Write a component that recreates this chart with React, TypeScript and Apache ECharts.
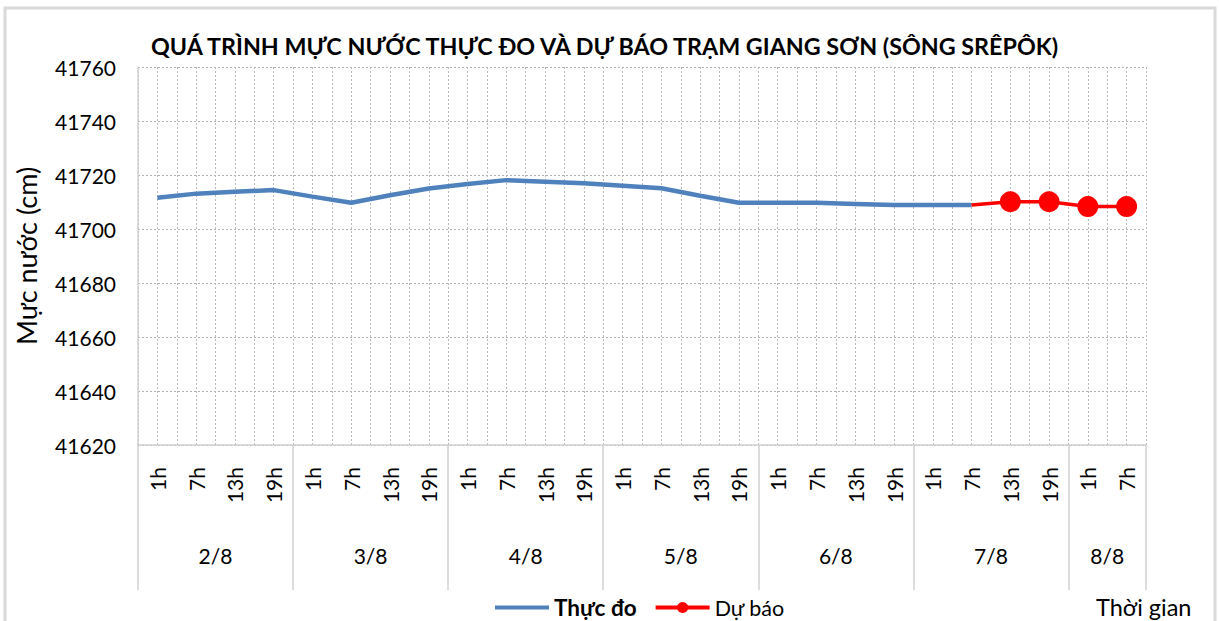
import React, { useEffect, useRef } from "react";
import * as echarts from "echarts";

const hourLabels = [
  "1h", "7h", "13h", "19h",
  "1h", "7h", "13h", "19h",
  "1h", "7h", "13h", "19h",
  "1h", "7h", "13h", "19h",
  "1h", "7h", "13h", "19h",
  "1h", "7h", "13h", "19h",
  "1h", "7h",
];
const dayLabels = ["2/8", "3/8", "4/8", "5/8", "6/8", "7/8", "8/8"];
const daySizes = [4, 4, 4, 4, 4, 4, 2];

const observed: (number | null)[] = [
  41711.6, 41713.1, 41713.8, 41714.4,
  41712.0, 41709.7, 41712.5, 41715.0,
  41716.7, 41718.1, 41717.5, 41716.9,
  41716.0, 41715.1, 41712.3, 41709.7,
  41709.7, 41709.7, 41709.3, 41708.9,
  41708.9, 41708.9, null, null,
  null, null,
];
const forecast: (number | null)[] = [
  null, null, null, null,
  null, null, null, null,
  null, null, null, null,
  null, null, null, null,
  null, null, null, null,
  null, 41708.9, 41710.1, 41710.1,
  41708.3, 41708.3,
];

const yMin = 41620;
const yMax = 41760;
const yStep = 20;

const FONT = "Lato, 'Open Sans', sans-serif";

export default function App() {
  const ref = useRef<HTMLDivElement>(null);

  useEffect(() => {
    if (!ref.current) return;
    const chart = echarts.init(ref.current, null, { renderer: "svg" });

    // boundaries & centers of day groups on a 0..N value scale
    const bounds: number[] = [0];
    const centers: number[] = [];
    let acc = 0;
    daySizes.forEach((s) => {
      centers.push(acc + s / 2);
      acc += s;
      bounds.push(acc);
    });
    const halfCats = hourLabels.flatMap((h, i) => [h + "a" + i, h + "b" + i]);

    // first forecast point is the junction with the observed line: no marker
    const firstF = forecast.findIndex((v) => v !== null);
    const forecastData = forecast.map((v, i) =>
      i === firstF ? { value: v, symbol: "none" } : v
    );

    chart.setOption({
      animation: false,
      backgroundColor: "#ffffff",
      textStyle: { fontFamily: FONT },
      title: [
        {
          text: "QUÁ TRÌNH MỰC NƯỚC THỰC ĐO VÀ DỰ BÁO TRẠM GIANG SƠN (SÔNG SRÊPÔK)",
          left: 146,
          top: 29,
          textStyle: { fontFamily: FONT, fontSize: 23.3, fontWeight: "bold", color: "#000" },
        },
        {
          text: "Thời gian",
          left: 1091,
          top: 590,
          textStyle: { fontFamily: FONT, fontSize: 23.5, fontWeight: "normal", color: "#000" },
        },
      ],
      legend: {
        left: 488,
        top: 591,
        itemWidth: 54,
        itemHeight: 14,
        itemGap: 17,
        lineStyle: { width: 4 },
        textStyle: { fontFamily: FONT, fontSize: 21, color: "#000" },
        data: [
          {
            name: "Thực đo",
            itemStyle: { color: "rgba(0,0,0,0)", opacity: 0 },
            lineStyle: { width: 4, color: "#4F81BD" },
            textStyle: { fontWeight: "bold", fontSize: 22.5 },
          },
          {
            name: "Dự báo",
            lineStyle: { width: 4, color: "#FF0000" },
            textStyle: { fontSize: 21.5 },
          },
        ],
      },
      grid: { left: 138, right: 73, top: 67, bottom: 176, containLabel: false },
      xAxis: [
        {
          type: "category",
          data: hourLabels,
          boundaryGap: true,
          position: "bottom",
          axisLine: { show: true, lineStyle: { color: "#d0d0d0", width: 1.5 } },
          axisTick: { show: false },
          splitLine: { show: false },
          axisLabel: {
            interval: 0,
            rotate: 90,
            margin: 22,
            fontFamily: FONT,
            fontSize: 21,
            color: "#000",
          },
        },
        {
          type: "category",
          data: halfCats,
          boundaryGap: true,
          position: "bottom",
          axisLine: { show: false },
          axisTick: { show: false },
          axisLabel: { show: false },
          splitLine: {
            show: true,
            interval: 0,
            lineStyle: { color: "#b8b8b8", type: [2, 2], width: 1 },
          },
        },
        {
          type: "value",
          min: 0,
          max: hourLabels.length,
          position: "bottom",
          axisLine: { show: false },
          splitLine: { show: false },
          axisTick: {
            show: true,
            customValues: bounds,
            length: 145,
            lineStyle: { color: "#d0d0d0", width: 1.5 },
          },
          axisLabel: {
            show: true,
            customValues: centers,
            margin: 100,
            fontFamily: FONT,
            fontSize: 21,
            color: "#000",
            formatter: (v: number) => {
              const k = centers.findIndex((c) => Math.abs(c - v) < 1e-6);
              return k >= 0 ? dayLabels[k] : "";
            },
          },
        },
      ],
      yAxis: {
        type: "value",
        min: yMin,
        max: yMax,
        interval: yStep,
        name: "Mực nước (cm)",
        nameLocation: "middle",
        nameGap: 98,
        nameRotate: 90,
        nameTextStyle: { fontFamily: FONT, fontSize: 27, color: "#000" },
        axisLine: { show: true, lineStyle: { color: "#d0d0d0", width: 1.5 } },
        axisTick: { show: false },
        axisLabel: {
          margin: 22,
          fontFamily: FONT,
          fontSize: 21,
          color: "#000",
          formatter: (v: number) => String(v),
        },
        splitLine: {
          show: true,
          lineStyle: { color: "#b0b0b0", type: [2, 2], width: 1 },
        },
      },
      series: [
        {
          name: "Thực đo",
          type: "line",
          xAxisIndex: 0,
          yAxisIndex: 0,
          data: observed,
          symbol: "none",
          lineStyle: { color: "#4F81BD", width: 4.5 },
          itemStyle: { color: "#4F81BD" },
          z: 3,
        },
        {
          name: "Dự báo",
          type: "line",
          xAxisIndex: 0,
          yAxisIndex: 0,
          data: forecastData,
          symbol: "circle",
          symbolSize: 21,
          lineStyle: { color: "#FF0000", width: 3.5 },
          itemStyle: { color: "#FF0000" },
          z: 4,
        },
      ],
      graphic: [
        {
          type: "rect",
          shape: { x: 5, y: 8, width: 1210, height: 640 },
          style: { fill: "none", stroke: "#d9d9d9", lineWidth: 3 },
          silent: true,
          z: 100,
        },
      ],
    });

    return () => chart.dispose();
  }, []);

  return (
    <div
      ref={ref}
      style={{ position: "fixed", left: 0, top: 0, width: 1219, height: 621 }}
    />
  );
}
